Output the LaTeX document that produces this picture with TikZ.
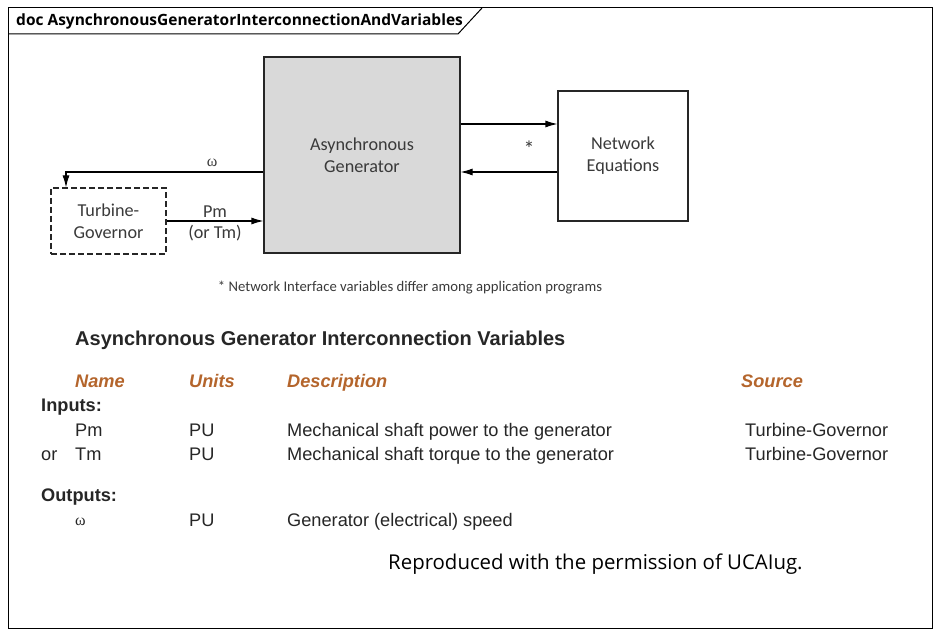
\documentclass[tikz,border=0pt]{standalone}
\usepackage{fontspec}
\setmainfont{Liberation Sans}
\newfontfamily\calfont{Carlito}
\newfontfamily\uifont{Open Sans}
\newfontfamily\grkfont{Liberation Serif}
\usetikzlibrary{arrows.meta}
\definecolor{hdrbrown}{HTML}{B4652C}
\definecolor{gengray}{HTML}{D9D9D9}
\definecolor{txtgray}{HTML}{3A3A3A}
\tikzset{
	block/.style={draw=black!85, line width=1.1pt, align=center, text=txtgray,
			font=\calfont\fontsize{18.2}{22}\selectfont},
	lbl/.style={text=txtgray, font=\calfont\fontsize{18.2}{22}\selectfont},
	tbl/.style={anchor=base west, inner sep=0pt, text=black!85,
			font=\fontsize{18.2}{20}\selectfont},
	hdr/.style={tbl, text=hdrbrown, font=\fontsize{18.2}{20}\selectfont\bfseries\itshape},
	grp/.style={tbl, font=\fontsize{18.2}{20}\selectfont\bfseries},
	omega/.style={font=\grkfont\fontsize{16}{16}\selectfont}
}

\begin{document}
\begin{tikzpicture}[x=1pt, y=-1pt, >={Latex[length=12pt,width=7pt]}]
		\useasboundingbox (0,0) rectangle (940,636);

		% Frame and tab
		\draw[line width=1pt] (8,8) rectangle (932,628);
		\draw[line width=1pt] (8,34) -- (458,34) -- (482,8);
		\node[anchor=base west, inner sep=0pt, font=\uifont\fontsize{15.5}{16}\selectfont\bfseries] (doc) at (16,26) {doc AsynchronousGeneratorInterconnectionAndVariables};

		% Blocks
		\node[block, fill=gengray, minimum width=196pt, minimum height=196pt] (gen) at (362,155) {Asynchronous\\Generator};
		\node[block, minimum width=130pt, minimum height=130pt] (net) at (623,156) {Network\\Equations};
		\node[block, dash pattern=on 6pt off 3pt, minimum width=115pt, minimum height=66pt] (tg) at (108.5,221) {Turbine-\\Governor};

		% Network interface arrows
		\coordinate (netin) at ([yshift=32pt]net.west);
		\coordinate (netout) at ([yshift=-16pt]net.west);
		\draw[->, line width=1.1pt] (gen.east |- netin) -- (netin);
		\draw[->, line width=1.1pt] (netout) -- (gen.east |- netout);
		\node[lbl, font=\calfont\fontsize{22}{22}\selectfont] (star) at (529,149) {*};

		% Speed and mechanical power
		\coordinate (wout) at ([yshift=-17pt]gen.west);
		\coordinate (tgin) at ([xshift=-42.5pt]tg.north);
		\draw[->, line width=1.1pt] (wout) -| (tgin) node[pos=0.13, above=1pt, text=txtgray, omega] (w) {ω};
		\draw[->, line width=1.1pt] (tg.east) -- (tg.east -| gen.west)
		node[midway, above, lbl] (pm) {Pm}
		node[midway, below, lbl] (tm) {(or Tm)};

		% Footnote
		\node[text=txtgray, font=\calfont\fontsize{14.7}{16}\selectfont] (note) at (410,288) {* Network Interface variables differ among application programs};

		% Variables table
		\node[tbl, font=\fontsize{20}{22}\selectfont\bfseries] (title) at (75,346) {Asynchronous Generator Interconnection Variables};
		\node[hdr] (hname) at (75,387) {Name};
		\node[hdr] (hunits) at (189,387) {Units};
		\node[hdr] (hdesc) at (287,387) {Description};
		\node[hdr] (hsrc) at (741,387) {Source};
		\node[grp] (inputs) at (41,411) {Inputs:};
		\node[tbl] (pmname) at (75,436) {Pm};
		\node[tbl] (pmunit) at (189,436) {PU};
		\node[tbl] (pmdesc) at (287,436) {Mechanical shaft power to the generator};
		\node[tbl] (pmsrc) at (745,436) {Turbine-Governor};
		\node[tbl] (or) at (41,460) {or};
		\node[tbl] (tmname) at (75,460) {Tm};
		\node[tbl] (tmunit) at (189,460) {PU};
		\node[tbl] (tmdesc) at (287,460) {Mechanical shaft torque to the generator};
		\node[tbl] (tmsrc) at (745,460) {Turbine-Governor};
		\node[grp] (outputs) at (41,501) {Outputs:};
		\node[tbl, omega] (wname) at (75,525) {ω};
		\node[tbl] (wunit) at (189,526) {PU};
		\node[tbl] (wdesc) at (287,526) {Generator (electrical) speed};

		% Credit
		\node[anchor=base west, inner sep=0pt, font=\uifont\fontsize{20.4}{22}\selectfont] (credit) at (388,569) {Reproduced with the permission of UCAIug.};
	\end{tikzpicture}
\end{document}
